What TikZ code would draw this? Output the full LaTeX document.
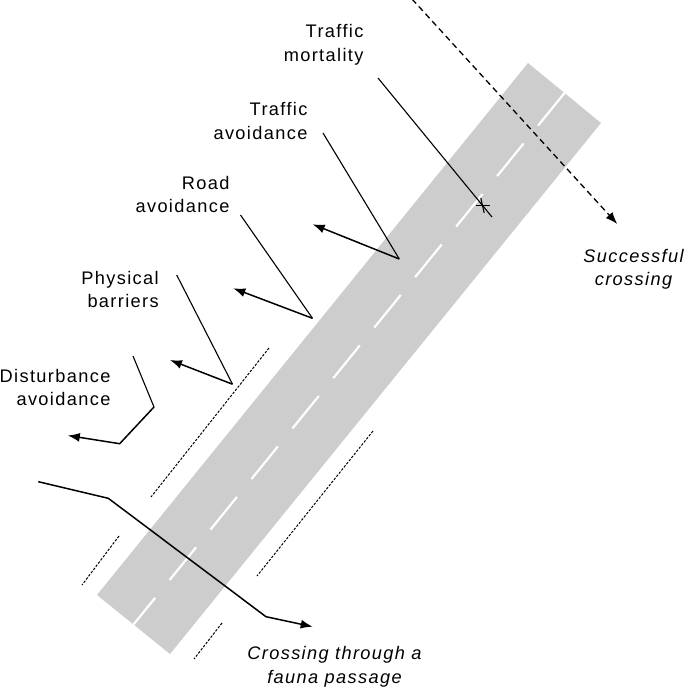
\documentclass[tikz,border=0pt]{standalone}
\usepackage{fontspec}
\setmainfont{Liberation Sans}[LetterSpace=7.5]
\usetikzlibrary{arrows.meta}
\definecolor{roadgray}{RGB}{205,205,205}

\begin{document}
\begin{tikzpicture}[x=1pt, y=-1pt, line width=1.1pt,
    lbl/.style={font=\fontsize{18.2}{23.5}\selectfont, inner sep=0pt, align=right, anchor=north east},
    itlbl/.style={font=\fontsize{18.2}{23.5}\selectfont\itshape, inner sep=0pt, align=center, anchor=north},
    trail/.style={line width=1.5pt, -{Latex[length=12pt,width=9pt]}},
    fence/.style={line width=1pt, dash pattern=on 2.5pt off 1.5pt}]
  \useasboundingbox (0,0) rectangle (685,689);

  % road and centre line
  \fill[roadgray] (528,63) -- (601,123) -- (170,654) -- (97,595) -- cycle;
  \draw[white, line width=2.2pt, dash pattern=on 42pt off 23pt] (564.5,93) -- (133.5,624.5);

  % fences beside the road
  \draw[fence] (269,348) -- (151,497);
  \draw[fence] (119,536) -- (82,585);
  \draw[fence] (373,431) -- (257,576);
  \draw[fence] (222,623) -- (194,659);

  % labels
  \node[lbl] (mortality) at (364,24) {Traffic\\mortality};
  \node[lbl] (trafficav) at (308,102) {Traffic\\avoidance};
  \node[lbl] (roadav) at (230,175.3) {Road\\avoidance};
  \node[lbl] (barriers) at (159.3,270.3) {Physical\\barriers};
  \node[lbl] (disturb) at (111,368.5) {Disturbance\\avoidance};
  \node[itlbl] (success) at (633.5,248.7) {Successful\\crossing};
  \node[itlbl] (passage) at (334.5,646) {Crossing through a\\fauna passage};

  % traffic mortality
  \coordinate (mort-a) at (378,78);
  \coordinate (hit) at (482.5,205.5);
  \coordinate (mort-b) at (492,217);
  \draw (mort-a) -- (mort-b);
  \draw (hit) ++(-7,0) -- ++(14,0);
  \draw (hit) ++(-1.7,-7.5) -- ++(3.4,15);

  % traffic avoidance
  \coordinate (tav-a) at (323,133);
  \coordinate (tav-v) at (399.3,259);
  \coordinate (tav-e) at (312.7,224.3);
  \draw (tav-a) -- (tav-v);
  \draw[trail] (tav-v) -- (tav-e);

  % road avoidance
  \coordinate (rav-a) at (240.5,215);
  \coordinate (rav-v) at (312.5,318.3);
  \coordinate (rav-e) at (233.3,288.3);
  \draw (rav-a) -- (rav-v);
  \draw[trail] (rav-v) -- (rav-e);

  % physical barriers
  \coordinate (bar-a) at (176.7,275);
  \coordinate (bar-v) at (232.5,384.2);
  \coordinate (bar-e) at (170,360);
  \draw (bar-a) -- (bar-v);
  \draw[trail] (bar-v) -- (bar-e);

  % disturbance avoidance
  \coordinate (dis-a) at (133,356);
  \coordinate (dis-b) at (154,407);
  \coordinate (dis-c) at (119.7,443.7);
  \coordinate (dis-e) at (67.8,435.5);
  \draw (dis-a) -- (dis-b);
  \draw[trail] (dis-b) -- (dis-c) -- (dis-e);

  % fauna passage
  \coordinate (fp-a) at (38.3,481.7);
  \coordinate (fp-b) at (108.3,498.3);
  \coordinate (fp-c) at (266,616.7);
  \coordinate (fp-e) at (312.7,626.7);
  \draw[trail] (fp-a) -- (fp-b) -- (fp-c) -- (fp-e);

  % successful crossing
  \coordinate (sc-a) at (412,-1);
  \coordinate (sc-e) at (617.3,224);
  \draw[trail, line width=1.3pt, dash pattern=on 6pt off 4pt] (sc-a) -- (sc-e);
\end{tikzpicture}
\end{document}
